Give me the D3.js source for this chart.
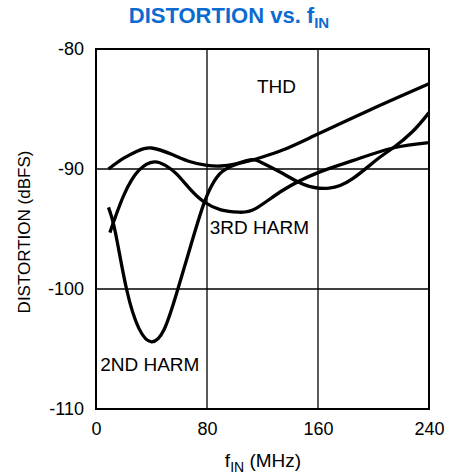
<!DOCTYPE html>
<html><head><meta charset="utf-8">
<script src="https://cdn.jsdelivr.net/npm/d3@7"></script>
<style>
html,body{margin:0;padding:0;background:#fff;}
svg{display:block;font-family:"Liberation Sans",Arial,Helvetica,sans-serif;}
</style></head>
<body>
<svg id="chart" width="450" height="476"></svg>
<script>
// ---- data ----
const xTicks = [0, 80, 160, 240];
const yTicks = [-80, -90, -100, -110];

const thdF = [9, 20, 30, 40, 55, 68, 80, 90, 100, 111, 120, 135, 156, 197, 240];
const thdV = [-90, -89.1, -88.5, -88.25, -88.8, -89.4, -89.7, -89.75, -89.6, -89.3, -89.0, -88.4, -87.3, -85.1, -82.9];

const h2F = [9, 14, 22, 31, 40, 49, 58, 68, 78, 87, 97, 111, 120, 135, 150, 168, 185, 202, 214, 228, 240];
const h2V = [-93.2, -95.3, -100.0, -103.3, -104.4, -103.4, -100.4, -96.5, -92.8, -90.7, -89.8, -89.25, -89.5, -90.4, -91.3, -91.6, -90.8, -89.25, -88.25, -86.9, -85.3];

const h3F = [10, 20, 31, 42, 50, 58, 68, 78, 90, 103, 115, 135, 160, 185, 214, 240];
const h3V = [-95.3, -92.2, -90.1, -89.4, -89.7, -90.4, -91.7, -92.75, -93.4, -93.6, -93.3, -91.75, -90.3, -89.3, -88.25, -87.8];

const seriesNames = ["THD", "2ND HARM", "3RD HARM"];

// ---- layout ----
const svg = d3.select("#chart");
const m = {left: 96, right: 429, top: 49, bottom: 409};
const x = d3.scaleLinear().domain([0, 240]).range([m.left, m.right]);
const y = d3.scaleLinear().domain([-110, -80]).range([m.bottom, m.top]);
const fmt = d => String(d);

// gridlines
const g = svg.append("g");
g.selectAll("line.vg").data(xTicks.slice(1, -1)).join("line")
  .attr("x1", d => x(d)).attr("x2", d => x(d))
  .attr("y1", m.top).attr("y2", m.bottom)
  .attr("stroke", "#000").attr("stroke-width", 1.3);
g.selectAll("line.hg").data(yTicks.slice(1, -1)).join("line")
  .attr("y1", d => y(d)).attr("y2", d => y(d))
  .attr("x1", m.left).attr("x2", m.right)
  .attr("stroke", "#000").attr("stroke-width", 1.3);

// axes (labels only) via d3 axes
const xAxis = svg.append("g").attr("transform", `translate(0,${m.bottom})`)
  .call(d3.axisBottom(x).tickValues(xTicks).tickSize(0).tickPadding(13).tickFormat(fmt));
xAxis.select(".domain").remove();
xAxis.selectAll("text").attr("font-size", 18).attr("fill", "#000")
  .attr("font-family", "'Liberation Sans',Arial,sans-serif");

const yAxis = svg.append("g").attr("transform", `translate(${m.left},0)`)
  .call(d3.axisLeft(y).tickValues(yTicks).tickSize(0).tickPadding(12).tickFormat(fmt));
yAxis.select(".domain").remove();
yAxis.selectAll("text").attr("font-size", 18).attr("fill", "#000")
  .attr("font-family", "'Liberation Sans',Arial,sans-serif");

// frame
svg.append("rect").attr("x", m.left).attr("y", m.top)
  .attr("width", m.right - m.left).attr("height", m.bottom - m.top)
  .attr("fill", "none").attr("stroke", "#000").attr("stroke-width", 2);

// curves
const line = d3.line().x(d => x(d[0])).y(d => y(d[1])).curve(d3.curveNatural);
const series = [
  d3.zip(thdF, thdV),
  d3.zip(h2F, h2V),
  d3.zip(h3F, h3V)
];
svg.append("g").selectAll("path").data(series).join("path")
  .attr("d", line).attr("fill", "none").attr("stroke", "#000")
  .attr("stroke-width", 3.3).attr("stroke-linejoin", "round").attr("stroke-linecap", "butt");

// series labels
const labelPos = [[116, -83.7], [3, -106.8], [82, -95.4]];
svg.append("g").selectAll("text").data(seriesNames).join("text")
  .attr("x", (d, i) => x(labelPos[i][0])).attr("y", (d, i) => y(labelPos[i][1]))
  .attr("font-size", 19).attr("fill", "#000").text(d => d);

// title
const title = svg.append("text").attr("x", 229).attr("y", 23).attr("text-anchor", "middle")
  .attr("font-size", 22).attr("font-weight", "bold").attr("fill", "#0b6bd0")
  .attr("font-family", "'Liberation Sans',Arial,sans-serif");
title.append("tspan").text("DISTORTION vs. f");
title.append("tspan").attr("font-size", 15).attr("dy", 5).text("IN");

// x axis title
const xt = svg.append("text").attr("x", 263).attr("y", 467).attr("text-anchor", "middle")
  .attr("font-size", 19).attr("fill", "#000");
xt.append("tspan").text("f");
xt.append("tspan").attr("font-size", 14).attr("dy", 5).text("IN");
xt.append("tspan").attr("dy", -5).text(" (MHz)");

// y axis title
svg.append("text").attr("transform", "translate(30,232) rotate(-90)")
  .attr("text-anchor", "middle").attr("font-size", 17).attr("fill", "#000")
  .text("DISTORTION (dBFS)");
</script>
</body></html>
